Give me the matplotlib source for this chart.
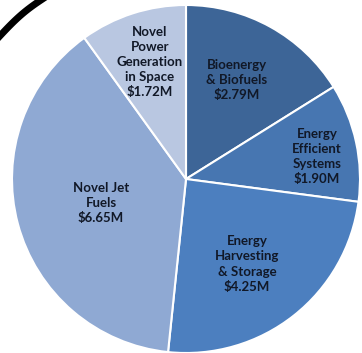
import numpy as np
import matplotlib.pyplot as plt

# Slice data (clockwise from 12 o'clock)
labels = ["Bioenergy\n& Biofuels", "Energy\nEfficient\nSystems", "Energy\nHarvesting\n& Storage",
          "Novel Jet\nFuels", "Novel\nPower\nGeneration\nin Space"]
values = [2.79, 1.90, 4.25, 6.65, 1.72]
colors = ["#3d6597", "#4776b1", "#4c7fbf", "#8fa9d3", "#b9c7e1"]

fig = plt.figure(figsize=(3.62, 3.53), dpi=100)
ax = fig.add_axes([0, 0, 1, 1])

wedges, _ = ax.pie(values, colors=colors, startangle=90, counterclock=False,
                   radius=1, center=(0, 0),
                   wedgeprops=dict(edgecolor="white", linewidth=1.5))

# label positions in pixels of the 362x353 picture
label_px = [(237, 80), (317, 157), (247, 264), (101, 203), (150, 62)]
cx, cy, r = 186, 179, 174
for lab, val, (px, py) in zip(labels, values, label_px):
    ax.text((px - cx) / r, (cy - py) / r, f"{lab}\n${val:.2f}M",
            ha="center", va="center", fontsize=9.5, fontweight="bold",
            family="Lato", color="#111827", linespacing=1.3)

ax.set_xlim(-cx / r, (362 - cx) / r)
ax.set_ylim(-(353 - cy) / r, cy / r)
ax.axis("off")

# black frame corner at top left
t = np.linspace(0, 1, 30)
fig.add_artist(plt.Line2D(-2 / 362 + 46 * t / 362, 1 - (38 - 40 * t - 3 * np.sin(np.pi * t)) / 353,
                          color="black", linewidth=5, transform=fig.transFigure))

fig.savefig("out.png", dpi=100)
